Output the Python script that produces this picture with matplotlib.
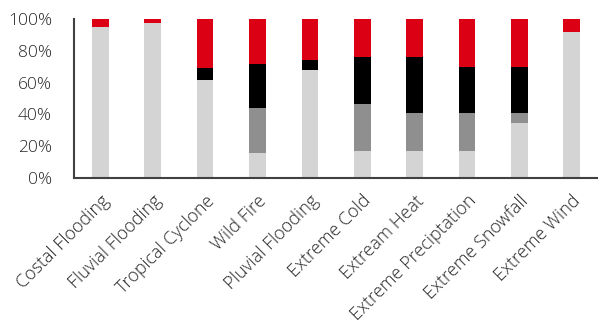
import matplotlib.pyplot as plt
import numpy as np

categories = ['Costal Flooding', 'Fluvial Flooding', 'Tropical Cyclone', 'Wild Fire',
              'Pluvial Flooding', 'Extreme Cold', 'Extream Heat', 'Extreme Preciptation',
              'Extreme Snowfall', 'Extreme Wind']
# shares per hazard (fractions, stacked bottom to top)
low = [0.95, 0.978, 0.616, 0.159, 0.677, 0.17, 0.17, 0.17, 0.348, 0.918]
mid = [0.0, 0.0, 0.0, 0.281, 0.0, 0.295, 0.237, 0.237, 0.059, 0.0]
high = [0.0, 0.0, 0.078, 0.279, 0.067, 0.298, 0.356, 0.293, 0.293, 0.0]
top = [0.05, 0.022, 0.306, 0.281, 0.256, 0.237, 0.237, 0.30, 0.30, 0.082]

plt.rcParams['font.family'] = ['Open Sans', 'DejaVu Sans']

fig = plt.figure(figsize=(5.98, 3.29), dpi=100)
ax = fig.add_axes([0.124, 0.459, 0.876, 0.483])

x = np.arange(len(categories))
w = 0.32
bottom = np.zeros(len(categories))
for vals, col in [(low, '#d4d4d4'), (mid, '#8f8f8f'), (high, '#000000'), (top, '#dc0014')]:
    ax.bar(x, vals, w, bottom=bottom, color=col, edgecolor='none')
    bottom += np.array(vals)

ax.set_xlim(-0.5, len(categories) - 0.5)
ax.set_ylim(0, 1)
ax.set_yticks(np.arange(0, 1.01, 0.2))
ax.set_yticklabels([f'{int(round(v * 100))}%' for v in np.arange(0, 1.01, 0.2)],
                   fontsize=12.5, color='#262626', fontweight='light')
ax.set_xticks(x)
ax.set_xticklabels(categories, rotation=45, ha='right', rotation_mode='anchor',
                   fontsize=13, color='#262626', fontweight='light')
ax.tick_params(axis='y', length=0, pad=16)
ax.tick_params(axis='x', length=0, pad=10)
for s in ['top', 'right']:
    ax.spines[s].set_visible(False)
for s in ['left', 'bottom']:
    ax.spines[s].set_color('#404040')
    ax.spines[s].set_linewidth(1.5)

fig.savefig('out.png', dpi=100)
